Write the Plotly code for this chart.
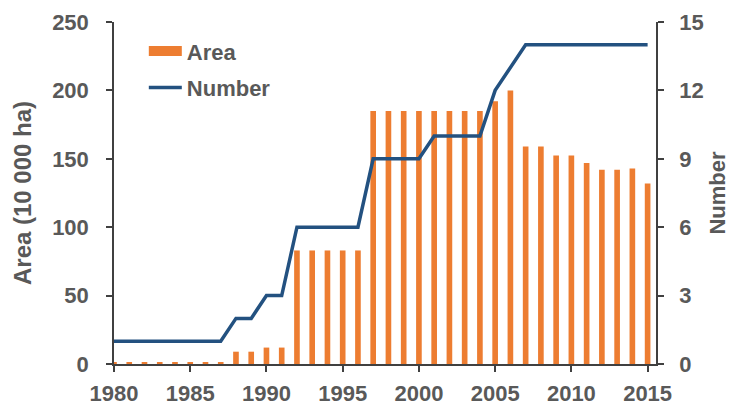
import plotly.graph_objects as go

# Data
years = list(range(1980, 2016))
area = [1, 1, 1, 1, 1, 1, 1, 1, 9, 9, 12, 12,
        83, 83, 83, 83, 83,
        185, 185, 185, 185, 185, 185, 185, 185,
        192, 200, 159, 159, 152.5, 152.5, 147, 142, 142, 143, 132]
number = [1, 1, 1, 1, 1, 1, 1, 1, 2, 2, 3, 3,
          6, 6, 6, 6, 6,
          9, 9, 9, 9, 10, 10, 10, 10,
          12, 13, 14, 14, 14, 14, 14, 14, 14, 14, 14]
x_ticks = [1980, 1985, 1990, 1995, 2000, 2005, 2010, 2015]

ORANGE = "#ED7D31"
BLUE = "#235180"
GREY = "#595959"
AXIS = "#404040"
FONT = "Liberation Sans"

fig = go.Figure()

fig.add_trace(go.Bar(
    x=years, y=area, name="Area",
    marker=dict(color=ORANGE, line=dict(width=0)),
    width=0.37, showlegend=False,
))

# legend-only entry so the Area key is a wide block like the original
fig.add_trace(go.Scatter(
    x=[None], y=[None], name="Area", mode="lines",
    line=dict(color=ORANGE, width=12), legendgroup="a",
))

fig.add_trace(go.Scatter(
    x=years, y=number, name="Number", yaxis="y2",
    mode="lines", line=dict(color=BLUE, width=3.5),
    legendgroup="b",
))

tickfont = dict(family=FONT, size=22, color=GREY, weight="bold")
axis_style = dict(
    showline=True, linecolor=AXIS, linewidth=1.5,
    ticks="outside", tickcolor=AXIS, ticklen=6, tickwidth=1.5,
    tickfont=tickfont, showgrid=False, zeroline=False, automargin=False,
)

# the page body adds an 8px offset, margins account for it
fig.update_layout(
    width=735, height=407,
    margin=dict(l=106, r=87, t=14, b=51),
    plot_bgcolor="white", paper_bgcolor="white",
    showlegend=True,
    legend=dict(
        x=0.055, y=0.976, xanchor="left", yanchor="top",
        font=dict(family=FONT, size=22, color=GREY, weight="bold"),
        bgcolor="rgba(0,0,0,0)", traceorder="grouped", tracegroupgap=5,
        itemwidth=33,
    ),
    xaxis=dict(range=[1980, 2015.55], tickvals=x_ticks,
               ticklabelstandoff=3, **axis_style),
    yaxis=dict(
        range=[0, 250], dtick=50, ticklabelstandoff=13,
        title=dict(text="Area (10 000 ha)",
                   font=dict(family=FONT, size=24, color=GREY, weight="bold"),
                   standoff=14),
        **axis_style,
    ),
    yaxis2=dict(
        range=[0, 15], dtick=3, overlaying="y", side="right",
        ticklabelstandoff=11,
        title=dict(text="Number",
                   font=dict(family=FONT, size=22, color=GREY, weight="bold"),
                   standoff=7),
        **axis_style,
    ),
)

fig.write_html("out.html")
